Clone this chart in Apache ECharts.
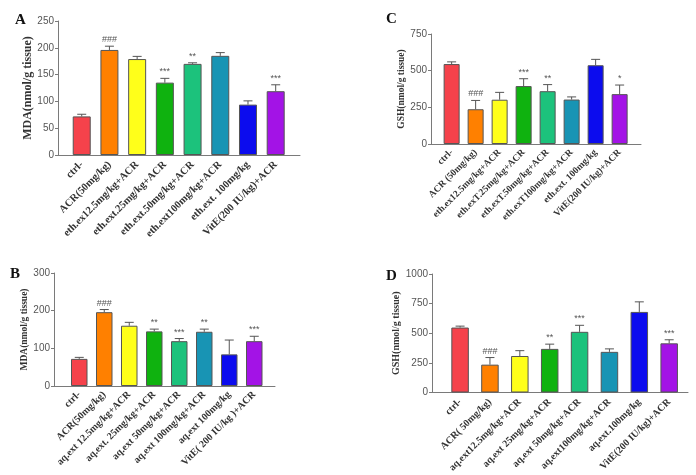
<!DOCTYPE html>
<html>
<head>
<meta charset="utf-8">
<script src="https://cdn.jsdelivr.net/npm/echarts@6/dist/echarts.min.js"></script>
<style>
  html, body { margin: 0; padding: 0; background: #fff; }
  #main { width: 696px; height: 475px; }
</style>
</head>
<body>
<div id="main"></div>
<script>
// 柱子颜色（每个处理组一个）
const barColors = ['#f5424b', '#ff8000', '#ffff1a', '#0fb20f', '#1cc27c', '#1894b4', '#0c0cee', '#a313e6'];

// A: MDA, ethanol extract
const groupsA = ['ctrl-', 'ACR(50mg/kg)', 'eth.ex12.5mg/kg+ACR', 'eth.ext.25mg/kg+ACR', 'eth.ext.50mg/kg+ACR', 'eth.ext100mg/kg+ACR', 'eth.ext. 100mg/kg', 'VitE(200 IU/kg)+ACR'];
const meanA = [72, 196, 179, 135, 170, 185, 94, 119];
const errA = [4, 7, 5, 8, 2, 6, 7, 12];
const markA = ['', '###', '', '***', '**', '', '', '***'];

// B: MDA, aqueous extract
const groupsB = ['ctrl-', 'ACR(50mg/kg)', 'aq.ext 12.5mg/kg+ACR', 'aq.ext. 25mg/kg+ACR', 'aq.ext 50mg/kg+ACR', 'aq.ext 100mg/kg+ACR', 'aq.ext 100mg/kg', 'VitE( 200 IU/kg )+ACR'];
const meanB = [72, 196, 160, 145, 119, 144, 84, 119];
const errB = [4, 7, 9, 6, 7, 7, 38, 13];
const markB = ['', '###', '', '**', '***', '**', '', '***'];

// C: GSH, ethanol extract
const groupsC = ['ctrl-', 'ACR (50mg/kg)', 'eth.ex12.5mg/kg+ACR', 'eth.exT.25mg/kg+ACR', 'eth.exT.50mg/kg+ACR', 'eth.exT100mg/kg+ACR', 'eth.ext. 100mg/kg', 'VitE(200 IU/kg)+ACR'];
const meanC = [545, 237, 302, 395, 360, 303, 537, 340];
const errC = [15, 60, 50, 50, 45, 18, 40, 62];
const markC = ['', '###', '', '***', '**', '', '', '*'];

// D: GSH, aqueous extract
const groupsD = ['ctrl-', 'ACR( 50mg/kg)', 'aq.ext12.5mg/kg+ACR', 'aq.ext 25mg/kg+ACR', 'aq.ext 50mg/kg+ACR', 'aq.ext100mg/kg+ACR', 'aq.ext.100mg/kg', 'VitE(200 IU/kg)+ACR'];
const meanD = [548, 235, 308, 368, 512, 343, 680, 415];
const errD = [12, 60, 45, 40, 55, 25, 85, 30];
const markD = ['', '###', '', '**', '***', '', '', '***'];

const yTicksA = { max: 250, interval: 50 };
const yTicksB = { max: 300, interval: 100 };
const yTicksC = { max: 750, interval: 250 };
const yTicksD = { max: 1000, interval: 250 };

// 面板布局
const panels = [
  { letter: 'A', lx: 10, ly: 8, groups: groupsA, mean: meanA, err: errA, mark: markA, yt: yTicksA, name: 'MDA(nmol/g tissue)',
    grid: { left: 58, top: 21, width: 242, height: 134 }, xmin: -0.856, xmax: 7.877, barW: 18, fs: 10.5, gap: 24, nfs: 12, mg: 8 },
  { letter: 'B', lx: 5, ly: 262, groups: groupsB, mean: meanB, err: errB, mark: markB, yt: yTicksB, name: 'MDA(nmol/g tissue)',
    grid: { left: 54, top: 273, width: 221, height: 113 }, xmin: -1.01, xmax: 7.83, barW: 16.5, fs: 10, gap: 21, nfs: 9.5, mg: 7 },
  { letter: 'C', lx: 381, ly: 7, groups: groupsC, mean: meanC, err: errC, mark: markC, yt: yTicksC, name: 'GSH(nmol/g tissue)',
    grid: { left: 431, top: 34, width: 210, height: 110 }, xmin: -0.86, xmax: 7.89, barW: 16, fs: 9.5, gap: 19, nfs: 9.5, mg: 7 },
  { letter: 'D', lx: 381, ly: 264, groups: groupsD, mean: meanD, err: errD, mark: markD, yt: yTicksD, name: 'GSH(nmol/g tissue)',
    grid: { left: 432, top: 274, width: 256, height: 120 }, xmin: -0.94, xmax: 7.63, barW: 17.5, fs: 10, gap: 25, nfs: 10, mg: 8 }
];

const axisGray = '#7a7a7a';
const option = { animation: false, title: [], grid: [], xAxis: [], yAxis: [], series: [] };

panels.forEach(function (p, i) {
  option.title.push({
    text: p.letter, left: p.lx, top: p.ly,
    textStyle: { fontFamily: 'Liberation Serif', fontWeight: 'bold', fontSize: 15, color: '#111' }
  });
  option.grid.push(p.grid);
  option.xAxis.push({
    type: 'value', gridIndex: i, min: p.xmin, max: p.xmax,
    splitLine: { show: false },
    axisTick: { show: false },
    axisLine: { onZero: false, lineStyle: { color: axisGray } },
    axisLabel: {
      customValues: p.groups.map(function (g, k) { return k; }),
      formatter: function (v) { return p.groups[Math.round(v)]; },
      rotate: 45, margin: p.mg,
      fontFamily: 'Liberation Serif', fontWeight: 'bold', fontSize: p.fs, color: '#333'
    }
  });
  option.yAxis.push({
    type: 'value', gridIndex: i, min: 0, max: p.yt.max, interval: p.yt.interval,
    name: p.name, nameLocation: 'middle', nameGap: p.gap,
    nameTextStyle: { fontFamily: 'Liberation Serif', fontWeight: 'bold', fontSize: p.nfs, color: '#333' },
    splitLine: { show: false },
    axisLine: { show: true, onZero: false, lineStyle: { color: axisGray } },
    axisTick: { show: true, length: 3, lineStyle: { color: axisGray } },
    axisLabel: { fontFamily: 'Liberation Sans', fontSize: 10, color: '#555', margin: 4,
      formatter: function (v) { return String(v); } }
  });
  option.series.push({
    type: 'bar', xAxisIndex: i, yAxisIndex: i, barWidth: p.barW,
    data: p.mean.map(function (v, k) {
      return { value: [k, v], itemStyle: { color: barColors[k] } };
    }),
    itemStyle: { borderColor: '#555', borderWidth: 1 }
  });
  // 误差线 + 显著性标记
  option.series.push({
    type: 'custom', xAxisIndex: i, yAxisIndex: i, z: 5,
    data: p.mean.map(function (v, k) { return [k, v, p.err[k], k]; }),
    renderItem: function (params, api) {
      const k = api.value(3);
      const base = api.coord([api.value(0), api.value(1)]);
      const top = api.coord([api.value(0), api.value(1) + api.value(2)]);
      const cap = 4.5;
      const st = { stroke: '#555', lineWidth: 1 };
      return {
        type: 'group',
        children: [
          { type: 'line', shape: { x1: base[0], y1: base[1], x2: top[0], y2: top[1] }, style: st },
          { type: 'line', shape: { x1: top[0] - cap, y1: top[1], x2: top[0] + cap, y2: top[1] }, style: st },
          { type: 'text', style: { text: p.mark[k], x: top[0], y: top[1] - 2, align: 'center', verticalAlign: 'bottom',
            font: '9px "Liberation Sans"', fill: '#555' } }
        ]
      };
    }
  });
});

const myChart = echarts.init(document.getElementById('main'));
myChart.setOption(option);
</script>
</body>
</html>
